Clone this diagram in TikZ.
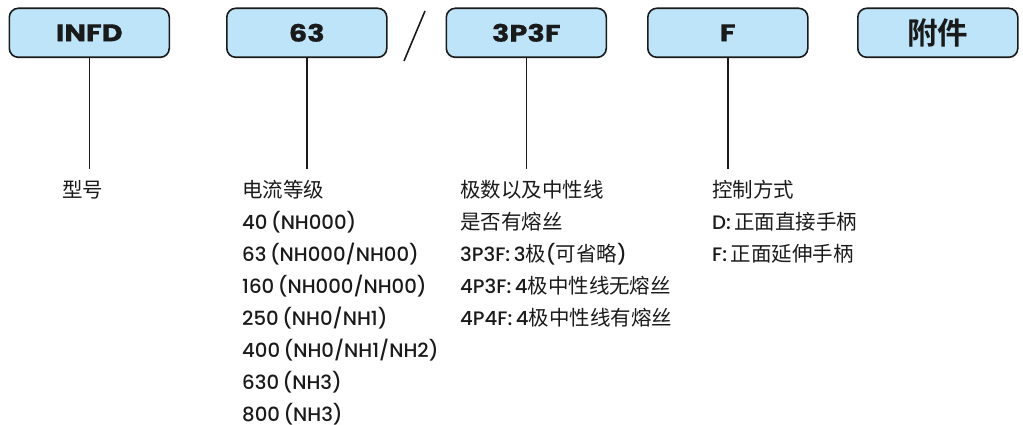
\documentclass[tikz,border=0pt]{standalone}
\usepackage{fontspec}
\IfFontExistsTF{Poppins Medium}
  {\setmainfont{Poppins Medium}[FakeStretch=1.01]}
  {\setmainfont{Poppins}[FakeStretch=1.04]}
\newfontfamily\boxfont{Poppins}[UprightFont=*-Bold, FakeStretch=1.2, FakeBold=0.6]
\newfontfamily\cjk{Noto Sans CJK SC}[Scale=1.05]
\newfontfamily\cjkbox{Noto Sans CJK SC}[UprightFont=* Bold]
\definecolor{boxfill}{RGB}{189,228,248}
\definecolor{ink}{RGB}{26,26,26}
\tikzset{
  codebox/.style={draw=ink, line width=1.6pt, fill=boxfill, rounded corners=9pt,
    minimum width=160pt, minimum height=49pt, inner sep=0pt, anchor=north west,
    font=\boxfont\fontsize{24}{28}\selectfont, text=ink},
  lead/.style={draw=ink, line width=1.6pt},
  desc/.style={anchor=north west, align=left, inner sep=0pt, text=ink,
    font=\fontsize{19.5}{32}\selectfont,
    execute at begin node={\spaceskip=0.18em\relax}}
}
\begin{document}
\begin{tikzpicture}[x=1pt,y=-1pt]
\useasboundingbox (0,0) rectangle (1023,425);
\node[codebox] (b1) at (8.5,7.5) {INFD};
\node[codebox] (b2) at (226,7.5) {63};
\node[codebox] (b3) at (445.5,7.5) {3P3F};
\node[codebox] (b4) at (647,7.5) {F};
\node[codebox] (b5) at (857,7.5) {\cjkbox\fontsize{30.5}{32}\selectfont 附件};
\draw[lead] (425,11) -- (404,61);
\coordinate (e1) at (b1.south |- 0,169);
\coordinate (e2) at (b2.south |- 0,169);
\coordinate (e3) at (b3.south |- 0,169);
\coordinate (e4) at (b4.south |- 0,169);
\draw[lead] (b1.south) -- (e1);
\draw[lead] (b2.south) -- (e2);
\draw[lead] (b3.south) -- (e3);
\draw[lead] (b4.south) -- (e4);
\node[desc] (t1) at (62,180) {\cjk 型号};
\node[desc] (t2) at (242,180) {{\cjk 电流等级}\\40 (NH000)\\63 (NH000/NH00)\\160 (NH000/NH00)\\250 (NH0/NH1)\\400 (NH0/NH1/NH2)\\630 (NH3)\\800 (NH3)};
\node[desc] (t3) at (460,180) {{\cjk 极数以及中性线}\\{\cjk 是否有熔丝}\\3P3F: 3{\cjk 极}({\cjk 可省略})\\4P3F: 4{\cjk 极中性线无熔丝}\\4P4F: 4{\cjk 极中性线有熔丝}};
\node[desc] (t4) at (712,180) {{\cjk 控制方式}\\D: {\cjk 正面直接手柄}\\F: {\cjk 正面延伸手柄}};
\end{tikzpicture}
\end{document}
